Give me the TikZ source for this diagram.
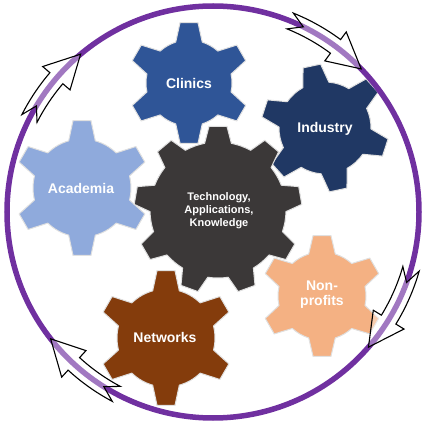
\documentclass[tikz,border=0pt]{standalone}
\usepackage{fontspec}
\newfontfamily\gearfont{Liberation Sans}
\usepackage{tikz}
\tikzset{every picture/.style={line width=0.75pt}}

\definecolor{cyclePurple}{RGB}{112,48,160}
\definecolor{gearClinics}{RGB}{47,85,151}
\definecolor{gearIndustry}{RGB}{32,56,100}
\definecolor{gearAcademia}{RGB}{143,170,220}
\definecolor{gearCore}{RGB}{59,56,56}
\definecolor{gearNonprofit}{RGB}{244,177,131}
\definecolor{gearNetworks}{RGB}{132,60,12}

\tikzset{
  gear/.style={draw=black!12, line width=1pt, line join=round},
  gearlabel/.style={text=white, inner sep=0pt, align=center,
    font=\gearfont\bfseries\fontsize{14}{15}\selectfont},
  corelabel/.style={gearlabel, font=\gearfont\bfseries\fontsize{11}{13}\selectfont},
  cyclering/.style={draw=cyclePurple, line width=5.5pt},
  cyclearrow/.style={draw=black, fill=white, fill opacity=0.35, line width=1.1pt, line join=miter},
}

% gear: centre, teeth, inner radius, outer radius, first tooth angle, colour
\newcommand{\drawgear}[6]{%
  \begin{scope}[shift={(#1)}]
    \pgfmathsetmacro\gstep{360/#2}
    \pgfmathsetmacro\gbase{13.5/#3*180/pi}
    \pgfmathsetmacro\gtip{9/#4*180/pi}
    \pgfmathtruncatemacro\glast{#2-1}
    \path[gear, fill=#6] ({#5+\gbase}:#3)
      \foreach \k [evaluate=\k as \ga using #5+\k*\gstep] in {0,...,\glast} {
        arc ({\ga+\gbase}:{\ga+\gstep-\gbase}:#3)
        -- ({\ga+\gstep-\gtip}:#4) -- ({\ga+\gstep+\gtip}:#4)
        -- ({\ga+\gstep+\gbase}:#3)
      } -- cycle;
  \end{scope}}

% curved block arrow on the ring: tail angle, tip angle (as seen, clockwise)
\newcommand{\ringarrow}[2]{%
  \begin{scope}[shift={(213,212)}]
    \pgfmathsetmacro\ua{-#1}
    \pgfmathsetmacro\ub{-#2-9.5}
    \path[cyclearrow] (\ua:214.5) arc (\ua:\ub:214.5) -- (\ub:224) -- ({-#2}:206)
      -- (\ub:188) -- (\ub:197.5) arc (\ub:\ua:197.5) -- ({\ua+4}:206) -- cycle;
  \end{scope}}

\begin{document}
\begin{tikzpicture}[x=1pt,y=1pt,yscale=-1,xscale=1]
  \useasboundingbox (0,0) rectangle (423,422);

  % gears
  \drawgear{82,188}{6}{49}{68}{90}{gearAcademia}
  \drawgear{189,83}{6}{43}{61}{90}{gearClinics}
  \drawgear{325,128}{6}{46}{64}{-42}{gearIndustry}
  \drawgear{322,296}{6}{44}{61}{90}{gearNonprofit}
  \drawgear{166,338}{6}{49}{68}{90}{gearNetworks}
  \drawgear{218,210}{9}{68}{84}{-90}{gearCore}

  % labels
  \node[gearlabel] (academia) at (81,188) {Academia};
  \node[gearlabel] (clinics) at (189,83) {Clinics};
  \node[gearlabel] (industry) at (325,129) {Industry};
  \node[gearlabel] (nonprofits) at (322,295) {Non-\\profits};
  \node[gearlabel] (networks) at (165,337) {Networks};
  \node[corelabel] (core) at (219,211) {Technology,\\Applications,\\Knowledge};

  % ring and arrows
  \draw[cyclering] (213,212) circle (206);
  \ringarrow{68}{44}
  \ringarrow{344}{319}
  \ringarrow{242}{218}
  \ringarrow{153}{130}
\end{tikzpicture}
\end{document}
